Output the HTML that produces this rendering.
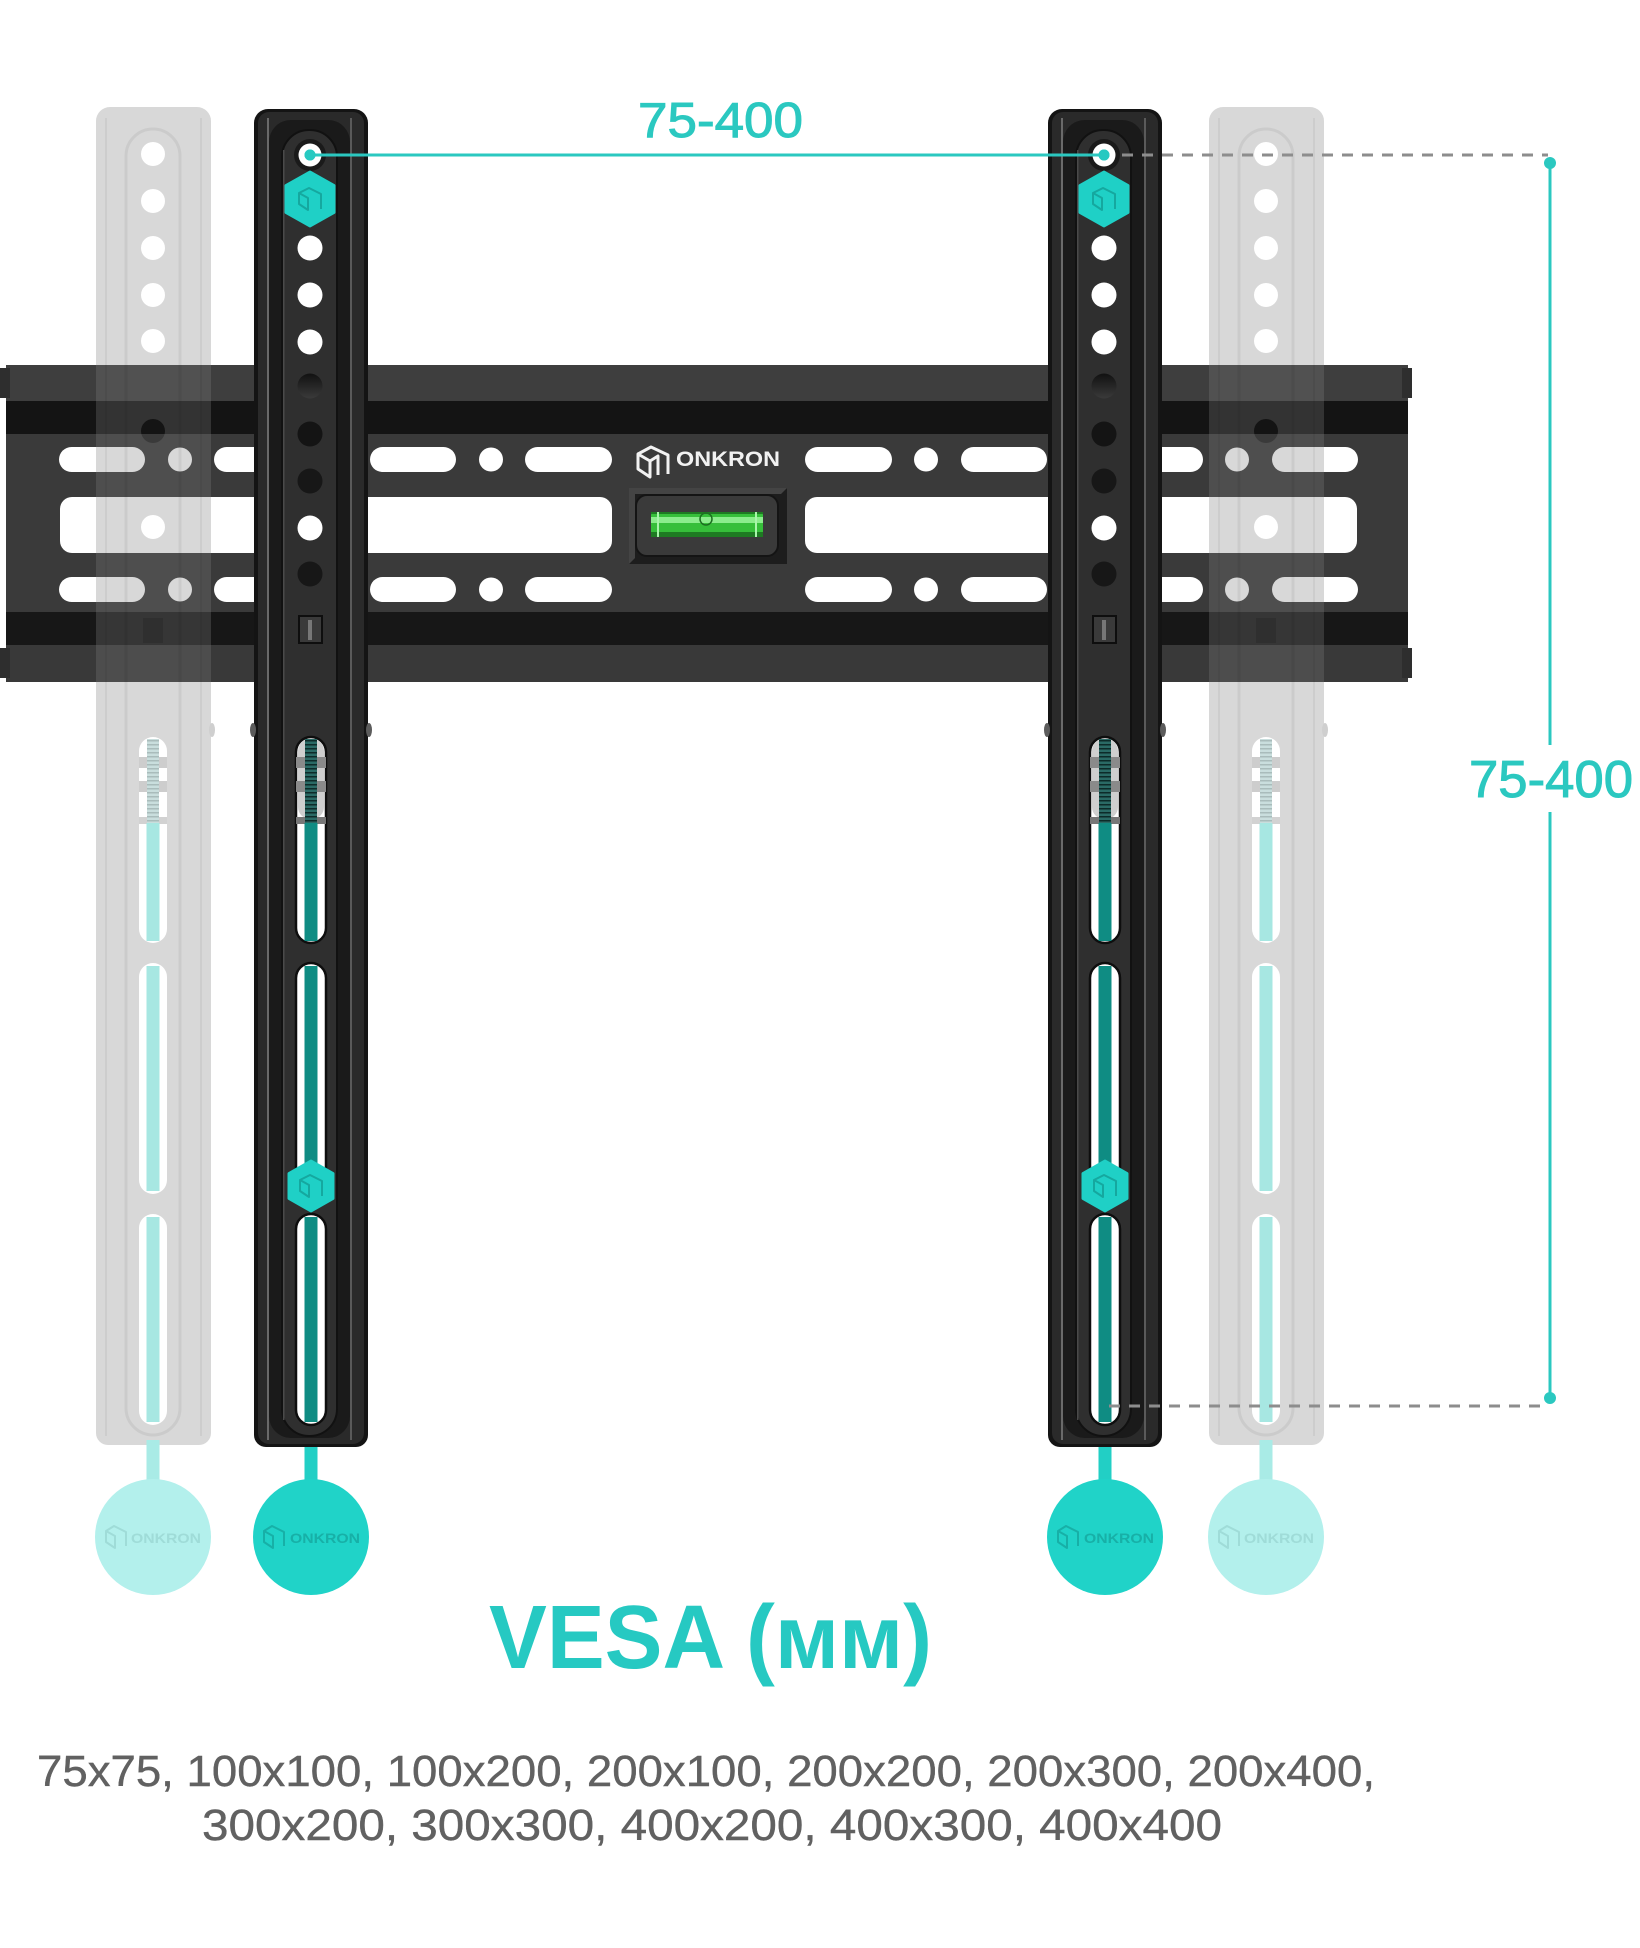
<!DOCTYPE html>
<html><head><meta charset="utf-8"><style>
html,body{margin:0;padding:0;background:#fff;}
svg{display:block;}
text{font-family:"Liberation Sans","Noto Sans CJK SC",sans-serif;}
</style></head><body>
<svg width="1640" height="1948" viewBox="0 0 1640 1948" xmlns="http://www.w3.org/2000/svg">
<defs>
  <pattern id="thr" width="12" height="4" patternUnits="userSpaceOnUse">
    <rect width="12" height="4" fill="#2a6a65"/>
    <rect width="12" height="1.5" fill="#0d2b29"/>
  </pattern>
  <pattern id="thrg" width="12" height="4" patternUnits="userSpaceOnUse">
    <rect width="12" height="4" fill="#c9dedd"/>
    <rect width="12" height="1.5" fill="#a9bcbb"/>
  </pattern>
  <linearGradient id="ghole" x1="0" y1="0" x2="0" y2="1">
    <stop offset="0" stop-color="#111"/><stop offset="1" stop-color="#3a3a3a"/>
  </linearGradient>
</defs>

<!-- ============ MAIN PLATE ============ -->
<g id="plate">
  <rect x="6" y="365" width="1402" height="317" fill="#3a3a3a"/>
  <rect x="6" y="365" width="1402" height="36" fill="#3e3e3e"/>
  <rect x="6" y="401" width="1402" height="33" fill="#141414"/>
  <rect x="6" y="612" width="1402" height="33" fill="#171717"/>
  <rect x="6" y="645" width="1402" height="37" fill="#393939"/>
  <rect x="0" y="368" width="10" height="30" fill="#2e2e2e"/>
  <rect x="1402" y="368" width="10" height="30" fill="#2e2e2e"/>
  <rect x="0" y="648" width="10" height="30" fill="#2e2e2e"/>
  <rect x="1402" y="648" width="10" height="30" fill="#2e2e2e"/>
  <g fill="#fff">
    <rect x="59" y="447" width="86" height="25" rx="12.5"/>
    <rect x="214" y="447" width="86" height="25" rx="12.5"/>
    <rect x="370" y="447" width="86" height="25" rx="12.5"/>
    <rect x="525" y="447" width="87" height="25" rx="12.5"/>
    <rect x="805" y="447" width="87" height="25" rx="12.5"/>
    <rect x="961" y="447" width="86" height="25" rx="12.5"/>
    <rect x="1117" y="447" width="86" height="25" rx="12.5"/>
    <rect x="1272" y="447" width="86" height="25" rx="12.5"/>
    <circle cx="180" cy="459.5" r="12"/>
    <circle cx="335" cy="459.5" r="12"/>
    <circle cx="491" cy="459.5" r="12"/>
    <circle cx="926" cy="459.5" r="12"/>
    <circle cx="1082" cy="459.5" r="12"/>
    <circle cx="1237" cy="459.5" r="12"/>
    <rect x="60" y="497" width="552" height="56" rx="12"/>
    <rect x="805" y="497" width="552" height="56" rx="12"/>
    <rect x="59" y="577" width="86" height="25" rx="12.5"/>
    <rect x="214" y="577" width="86" height="25" rx="12.5"/>
    <rect x="370" y="577" width="86" height="25" rx="12.5"/>
    <rect x="525" y="577" width="87" height="25" rx="12.5"/>
    <rect x="805" y="577" width="87" height="25" rx="12.5"/>
    <rect x="961" y="577" width="86" height="25" rx="12.5"/>
    <rect x="1117" y="577" width="86" height="25" rx="12.5"/>
    <rect x="1272" y="577" width="86" height="25" rx="12.5"/>
    <circle cx="180" cy="589.5" r="12"/>
    <circle cx="335" cy="589.5" r="12"/>
    <circle cx="491" cy="589.5" r="12"/>
    <circle cx="926" cy="589.5" r="12"/>
    <circle cx="1082" cy="589.5" r="12"/>
    <circle cx="1237" cy="589.5" r="12"/>
  </g>
  <g fill="none" stroke="#f2f2f2" stroke-width="3" stroke-linejoin="round">
    <path d="M638,454 L651,447 L668,455 L668,474"/>
    <path d="M638,454 L638,469 L650,477 L650,461 Z"/>
    <path d="M650,461 L658,456 L658,475"/>
  </g>
  <text x="676" y="466" font-size="21" font-weight="bold" fill="#f2f2f2" textLength="104" lengthAdjust="spacingAndGlyphs">ONKRON</text>
  <rect x="629" y="488" width="158" height="76" fill="#1d1d1d"/>
  <path d="M629,488 H787 L781,494 H635 V558 L629,564 Z" fill="#444"/>
  <rect x="636" y="495" width="142" height="61" rx="11" fill="#3a3a3a" stroke="#141414" stroke-width="2"/>
  <rect x="651" y="512" width="112" height="25" rx="3" fill="#36bf3a"/>
  <rect x="651" y="517" width="112" height="6" fill="#9af59b" opacity="0.85"/>
  <rect x="651" y="532" width="112" height="5" fill="#1e7a22"/>
  <rect x="651" y="512" width="112" height="2" fill="#1e7a22"/>
  <rect x="657" y="512" width="2" height="25" fill="#a8f5aa"/>
  <rect x="755" y="512" width="2" height="25" fill="#a8f5aa"/>
  <circle cx="706" cy="519" r="6" fill="none" stroke="#1c6f20" stroke-width="1.5"/>
</g>

<!-- ============ GHOST BRACKETS ============ -->
<g id="ghost">
  <path fill="rgba(125,125,125,0.3)" fill-rule="evenodd" d="
    M110,107 H197 A14,14 0 0 1 211,121 V1433 A12,12 0 0 1 199,1445 H108 A12,12 0 0 1 96,1433 V121 A14,14 0 0 1 110,107 Z
    M141,154 A12,12 0 1 0 165,154 A12,12 0 1 0 141,154 Z
    M141,201 A12,12 0 1 0 165,201 A12,12 0 1 0 141,201 Z
    M141,248 A12,12 0 1 0 165,248 A12,12 0 1 0 141,248 Z
    M141,295 A12,12 0 1 0 165,295 A12,12 0 1 0 141,295 Z
    M141,341 A12,12 0 1 0 165,341 A12,12 0 1 0 141,341 Z
    M141,431 A12,12 0 1 0 165,431 A12,12 0 1 0 141,431 Z
    M141,527 A12,12 0 1 0 165,527 A12,12 0 1 0 141,527 Z
    M139,751 A14,14 0 0 1 167,751 V929 A14,14 0 0 1 139,929 Z
    M139,977 A14,14 0 0 1 167,977 V1180 A14,14 0 0 1 139,1180 Z
    M139,1228 A14,14 0 0 1 167,1228 V1411 A14,14 0 0 1 139,1411 Z"/>
  <rect x="126" y="129" width="54" height="1306" rx="27" fill="none" stroke="rgba(0,0,0,0.06)" stroke-width="3"/>
  <rect x="105" y="118" width="2" height="1318" fill="rgba(0,0,0,0.05)"/>
  <rect x="200" y="118" width="2" height="1318" fill="rgba(0,0,0,0.05)"/>
  <rect x="143" y="618" width="20" height="25" fill="rgba(0,0,0,0.12)"/>
  <ellipse cx="212" cy="730" rx="3" ry="7" fill="#cfcfcf"/>
  <rect x="139" y="757" width="28" height="11" fill="#cdcdcd"/>
  <rect x="139" y="781" width="28" height="11" fill="#cdcdcd"/>
  <rect x="139" y="817" width="28" height="7" fill="#d2d2d2"/>
  <rect x="147" y="739" width="12" height="84" fill="url(#thrg)"/>
  <g fill="#a7e7e2">
    <rect x="146.5" y="823" width="13" height="118"/>
    <rect x="146.5" y="966" width="13" height="225"/>
    <rect x="146.5" y="1217" width="13" height="205"/>
  </g>
  <rect x="146.5" y="1440" width="13" height="50" fill="#a9ebe6"/>
  <circle cx="153" cy="1537" r="58" fill="#b3f0ec"/>
  <g fill="none" stroke="#9fdcd8" stroke-width="2" stroke-linejoin="round">
    <path d="M106,1531 L114,1526 L126,1532 L126,1546"/>
    <path d="M106,1531 L106,1542 L115,1548 L115,1536 Z"/>
  </g>
  <text x="131" y="1543" font-size="14" font-weight="bold" fill="#9fdcd8" textLength="70" lengthAdjust="spacingAndGlyphs">ONKRON</text>
</g>
<use href="#ghost" transform="translate(1113,0)"/>

<!-- ============ DARK BRACKETS ============ -->
<g id="dark">
  <rect x="304.5" y="1430" width="13" height="62" fill="#22cfc5"/>
  <circle cx="311" cy="1537" r="58" fill="#20d3c8"/>
  <g fill="none" stroke="#17b0a7" stroke-width="2" stroke-linejoin="round">
    <path d="M264,1531 L272,1526 L284,1532 L284,1546"/>
    <path d="M264,1531 L264,1542 L273,1548 L273,1536 Z"/>
  </g>
  <text x="290" y="1543" font-size="14" font-weight="bold" fill="#17b0a7" textLength="70" lengthAdjust="spacingAndGlyphs">ONKRON</text>

  <path d="M268,109 H354 A14,14 0 0 1 368,123 V1435 A12,12 0 0 1 356,1447 H266 A12,12 0 0 1 254,1435 V123 A14,14 0 0 1 268,109 Z" fill="#141414"/>
  <rect x="258" y="112" width="106" height="1332" rx="11" fill="#2a2a2a"/>
  <rect x="267" y="118" width="2" height="1322" fill="#6a6a6a"/>
  <rect x="350" y="118" width="2" height="1322" fill="#5a5a5a"/>
  <rect x="269" y="120" width="81" height="1318" rx="22" fill="#1a1a1a"/>
  <rect x="282" y="130" width="55" height="1306" rx="27" fill="#2f2f2f" stroke="#111" stroke-width="2"/>
  <rect x="283" y="150" width="1.5" height="1270" fill="#4a4a4a"/>
  <circle cx="310" cy="155" r="16" fill="#1a1a1a"/>
  <circle cx="310" cy="155" r="11.5" fill="#fff"/>
  <circle cx="310" cy="155" r="5.5" fill="#27c9c1"/>
  <g fill="#fff">
    <circle cx="310" cy="248" r="12.5"/>
    <circle cx="310" cy="295" r="12.5"/>
    <circle cx="310" cy="342" r="12.5"/>
    <circle cx="310" cy="528" r="12.5"/>
  </g>
  <circle cx="310" cy="386" r="12.5" fill="url(#ghole)"/>
  <circle cx="310" cy="434" r="12.5" fill="#141414"/>
  <circle cx="310" cy="481" r="12.5" fill="#171717"/>
  <circle cx="310" cy="574" r="12.5" fill="#171717"/>
  <rect x="299" y="616" width="23" height="27" fill="#3a3a3a" stroke="#0e0e0e" stroke-width="2"/>
  <rect x="308" y="620" width="4" height="20" fill="#777"/>
  <ellipse cx="253" cy="730" rx="3" ry="7" fill="#5c5c5c"/>
  <ellipse cx="369" cy="730" rx="3" ry="7" fill="#5c5c5c"/>
  <g fill="#fff" stroke="#0e0e0e" stroke-width="2.5">
    <rect x="296" y="737" width="30" height="206" rx="15"/>
    <rect x="296" y="963" width="30" height="231" rx="15"/>
    <rect x="296" y="1214" width="30" height="211" rx="15"/>
  </g>
  <rect x="298" y="739" width="26" height="80" rx="12" fill="#cfcfcf"/>
  <rect x="296" y="757" width="30" height="11" fill="#8a8a8a"/>
  <rect x="296" y="781" width="30" height="11" fill="#8a8a8a"/>
  <rect x="296" y="817" width="30" height="7" fill="#777"/>
  <rect x="305" y="739" width="12" height="84" fill="url(#thr)"/>
  <g fill="#0f8c83">
    <rect x="304.5" y="823" width="13" height="118"/>
    <rect x="304.5" y="966" width="13" height="225"/>
    <rect x="304.5" y="1217" width="13" height="205"/>
  </g>
  <polygon points="310,172 334,185.5 334,212.5 310,226 286,212.5 286,185.5" fill="#1fd0c6" stroke="#1fd0c6" stroke-width="3" stroke-linejoin="round"/>
  <g fill="none" stroke="#15a89f" stroke-width="2" stroke-linejoin="round">
    <path d="M299,193 L309,188 L321,194 L321,209"/>
    <path d="M299,193 L299,204 L308,210 L308,198 Z"/>
  </g>
  <polygon points="311,1161 333,1173.5 333,1198.5 311,1211 289,1198.5 289,1173.5" fill="#1fd0c6" stroke="#1fd0c6" stroke-width="3" stroke-linejoin="round"/>
  <g fill="none" stroke="#15a89f" stroke-width="2" stroke-linejoin="round">
    <path d="M300,1180 L310,1175 L322,1181 L322,1196"/>
    <path d="M300,1180 L300,1191 L309,1197 L309,1185 Z"/>
  </g>
</g>
<use href="#dark" transform="translate(794,0)"/>

<!-- ============ DIMENSIONS ============ -->
<line x1="310" y1="155" x2="1104" y2="155" stroke="#2bc8c0" stroke-width="3"/>
<circle cx="310" cy="155" r="5.5" fill="#27c9c1"/>
<circle cx="1104" cy="155" r="5.5" fill="#27c9c1"/>
<line x1="1122" y1="155" x2="1548" y2="155" stroke="#8d8d8d" stroke-width="3" stroke-dasharray="11,9"/>
<line x1="1109" y1="1406" x2="1548" y2="1406" stroke="#8d8d8d" stroke-width="3" stroke-dasharray="11,9"/>
<line x1="1550" y1="163" x2="1550" y2="745" stroke="#2bc8c0" stroke-width="3"/>
<line x1="1550" y1="812" x2="1550" y2="1398" stroke="#2bc8c0" stroke-width="3"/>
<circle cx="1550" cy="163" r="6" fill="#2bc8c0"/>
<circle cx="1550" cy="1398" r="6" fill="#2bc8c0"/>

<text x="638" y="137" font-size="49" fill="#2bc8c0" stroke="#2bc8c0" stroke-width="1" textLength="165" lengthAdjust="spacingAndGlyphs">75-400</text>
<text x="1469" y="797" font-size="52" fill="#2bc8c0" stroke="#2bc8c0" stroke-width="1" textLength="164" lengthAdjust="spacingAndGlyphs">75-400</text>

<!-- ============ BOTTOM TEXT ============ -->
<text x="489" y="1668" font-size="90" font-weight="bold" fill="#26c9c2" textLength="443" lengthAdjust="spacingAndGlyphs">VESA (мм)</text>
<text x="37" y="1786" font-size="44" fill="#616161" stroke="#616161" stroke-width="0.4" textLength="1338" lengthAdjust="spacingAndGlyphs">75x75, 100x100, 100x200, 200x100, 200x200, 200x300, 200x400,</text>
<text x="202" y="1840" font-size="44" fill="#616161" stroke="#616161" stroke-width="0.4" textLength="1020" lengthAdjust="spacingAndGlyphs">300x200, 300x300, 400x200, 400x300, 400x400</text>
</svg>
</body></html>
